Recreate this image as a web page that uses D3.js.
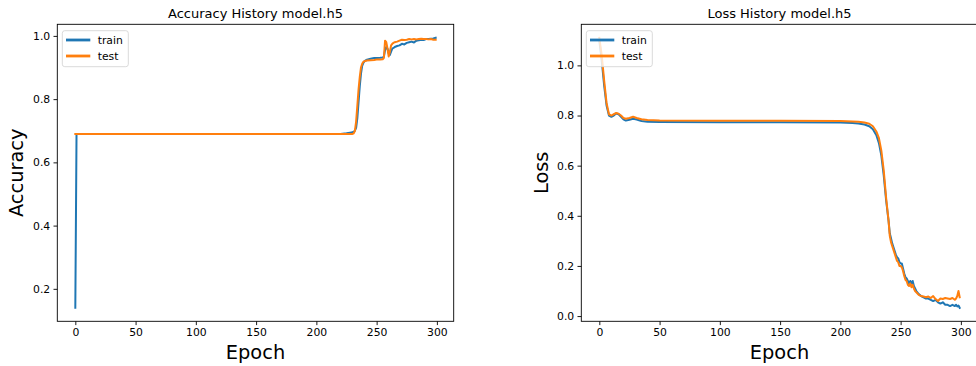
<!DOCTYPE html>
<html>
<head>
<meta charset="utf-8">
<script src="https://cdn.jsdelivr.net/npm/d3@7"></script>
<style>
  body { margin: 0; background: #fff; }
  svg { display: block; }
  text { font-family: "DejaVu Sans", sans-serif; fill: #000; }
</style>
</head>
<body>
<div class="grafici"></div>
<script>
// accuracy data
var accEpochs = [0, 1, 2, 220, 225, 228, 230, 231, 232, 233, 234, 235, 236, 237, 238, 239, 240, 242, 245, 248, 250, 253, 255, 256, 257, 258, 259, 260, 261, 262, 263, 264, 265, 267, 269, 271, 273, 275, 277, 279, 281, 283, 285, 287, 289, 291, 293, 295, 297, 299];
var accTrain = [0.14, 0.69, 0.69, 0.69, 0.692, 0.694, 0.695, 0.697, 0.70, 0.71, 0.74, 0.79, 0.84, 0.88, 0.905, 0.915, 0.92, 0.925, 0.928, 0.93, 0.93, 0.931, 0.932, 0.934, 0.955, 0.965, 0.96, 0.945, 0.94, 0.95, 0.96, 0.962, 0.965, 0.968, 0.97, 0.975, 0.973, 0.978, 0.98, 0.982, 0.979, 0.985, 0.986, 0.988, 0.987, 0.99, 0.99, 0.991, 0.992, 0.994];
var accTest = [0.69, 0.69, 0.69, 0.69, 0.69, 0.69, 0.69, 0.692, 0.70, 0.73, 0.78, 0.83, 0.87, 0.90, 0.912, 0.918, 0.92, 0.922, 0.923, 0.924, 0.925, 0.925, 0.926, 0.93, 0.985, 0.98, 0.96, 0.935, 0.95, 0.97, 0.975, 0.978, 0.98, 0.982, 0.985, 0.988, 0.987, 0.988, 0.99, 0.989, 0.99, 0.989, 0.99, 0.991, 0.99, 0.99, 0.989, 0.99, 0.988, 0.988];

// loss data
var lossEpochs = [0, 2, 4, 6, 8, 10, 12, 14, 16, 18, 20, 22, 25, 28, 31, 35, 40, 50, 100, 150, 200, 210, 215, 220, 224, 227, 230, 232, 234, 236, 238, 240, 241, 242, 243, 244, 245, 246, 247, 248, 249, 250, 251, 252, 253, 254, 255, 256, 257, 258, 259, 260, 261, 262, 263, 265, 267, 269, 271, 273, 275, 277, 279, 281, 283, 285, 287, 289, 291, 293, 295, 296, 297, 298, 299];
var lossTrain = [1.10, 1.02, 0.92, 0.84, 0.80, 0.795, 0.80, 0.808, 0.805, 0.795, 0.785, 0.78, 0.783, 0.787, 0.784, 0.778, 0.775, 0.774, 0.773, 0.773, 0.772, 0.77, 0.768, 0.764, 0.757, 0.745, 0.72, 0.69, 0.64, 0.56, 0.46, 0.38, 0.33, 0.31, 0.29, 0.275, 0.26, 0.245, 0.235, 0.23, 0.215, 0.21, 0.21, 0.19, 0.17, 0.155, 0.15, 0.14, 0.13, 0.14, 0.13, 0.14, 0.12, 0.11, 0.10, 0.088, 0.08, 0.075, 0.07, 0.07, 0.065, 0.06, 0.065, 0.055, 0.05, 0.055, 0.045, 0.045, 0.04, 0.045, 0.04, 0.045, 0.038, 0.042, 0.033];
var lossTest = [1.11, 1.04, 0.94, 0.85, 0.805, 0.80, 0.805, 0.81, 0.807, 0.80, 0.79, 0.787, 0.79, 0.795, 0.79, 0.785, 0.782, 0.78, 0.779, 0.779, 0.778, 0.776, 0.775, 0.772, 0.767, 0.757, 0.735, 0.71, 0.66, 0.58, 0.47, 0.38, 0.32, 0.295, 0.28, 0.265, 0.25, 0.235, 0.22, 0.215, 0.20, 0.20, 0.195, 0.18, 0.16, 0.145, 0.14, 0.125, 0.12, 0.13, 0.115, 0.125, 0.11, 0.10, 0.095, 0.085, 0.08, 0.078, 0.075, 0.078, 0.072, 0.08, 0.068, 0.06, 0.07, 0.068, 0.072, 0.07, 0.068, 0.072, 0.065, 0.07, 0.08, 0.10, 0.075];

var legendLabels = ["train", "test"];
var xTicks = [0, 50, 100, 150, 200, 250, 300];
var accTicks = [0.2, 0.4, 0.6, 0.8, 1.0];
var lossTicks = [0.0, 0.2, 0.4, 0.6, 0.8, 1.0];

var w = 976,
    h = 366;
var colori = ["#1f77b4", "#ff7f0e"];

var svg = d3.select(".grafici")
    .append("svg")
    .attr("width", w)
    .attr("height", h);

// matplotlib style 5% margin around the data
function conMargine(valori) {
    var ext = d3.extent(valori);
    var m = (ext[1] - ext[0]) * 0.05;
    return [ext[0] - m, ext[1] + m];
}

function disegnaGrafico(p) {
    var top = 24.3, bottom = 321.3;
    var x = d3.scaleLinear()
        .domain(conMargine(p.epochs))
        .range([p.left, p.right]);
    var y = d3.scaleLinear()
        .domain(conMargine(p.serie[0].concat(p.serie[1])))
        .range([bottom, top]);

    var g = svg.append("g");

    // axes
    var assex = d3.axisBottom(x).tickValues(xTicks).tickSize(3.8).tickPadding(3.3)
        .tickFormat(d3.format("d"));
    var assey = d3.axisLeft(y).tickValues(p.yTicks).tickSize(3.8).tickPadding(3.3)
        .tickFormat(d3.format(".1f"));

    var gx = g.append("g").attr("transform", "translate(0," + bottom + ")").call(assex);
    var gy = g.append("g").attr("transform", "translate(" + p.left + ",0)").call(assey);
    [gx, gy].forEach(function (a) {
        a.select(".domain").remove();
        a.selectAll(".tick line").attr("stroke", "#000").attr("stroke-width", 0.9);
        a.selectAll(".tick text").attr("font-size", "10.8px")
            .attr("font-family", "DejaVu Sans").attr("fill", "#000");
    });

    // lines
    var linea = d3.line()
        .x(function (d, i) { return x(p.epochs[i]); })
        .y(function (d) { return y(d); });

    p.serie.forEach(function (s, k) {
        g.append("path")
            .attr("d", linea(s))
            .attr("fill", "none")
            .attr("stroke", colori[k])
            .attr("stroke-width", 2)
            .attr("stroke-linejoin", "round")
            .attr("stroke-linecap", "square");
    });

    // frame
    g.append("rect")
        .attr("x", p.left).attr("y", top)
        .attr("width", p.right - p.left).attr("height", bottom - top)
        .attr("fill", "none").attr("stroke", "#000").attr("stroke-width", 0.9);

    // title and labels
    var cx = (p.left + p.right) / 2;
    g.append("text").attr("x", cx).attr("y", 18.3)
        .attr("text-anchor", "middle").attr("font-size", "13px").text(p.titolo);
    g.append("text").attr("x", cx).attr("y", 359)
        .attr("text-anchor", "middle").attr("font-size", "19.4px").text("Epoch");
    g.append("text")
        .attr("transform", "translate(" + p.yLabelX + "," + ((top + bottom) / 2) + ") rotate(-90)")
        .attr("text-anchor", "middle").attr("font-size", "19.4px").text(p.yLabel);

    // legend
    var lx = p.left + 5;
    var leg = g.append("g");
    leg.append("rect")
        .attr("x", lx).attr("y", 30.7).attr("width", 66).attr("height", 36)
        .attr("rx", 2.5)
        .attr("fill", "#fff").attr("fill-opacity", 0.8)
        .attr("stroke", "#d6d6d6").attr("stroke-width", 0.9);
    legendLabels.forEach(function (t, k) {
        var ly = 40 + k * 16;
        leg.append("line")
            .attr("x1", lx + 3.7).attr("x2", lx + 28)
            .attr("y1", ly).attr("y2", ly)
            .attr("stroke", colori[k]).attr("stroke-width", 2.8);
        leg.append("text")
            .attr("x", lx + 35.4).attr("y", ly + 4)
            .attr("font-size", "10.8px").text(t);
    });
}

disegnaGrafico({
    left: 57.3, right: 453.7,
    epochs: accEpochs, serie: [accTrain, accTest],
    yTicks: accTicks,
    titolo: "Accuracy History model.h5",
    yLabel: "Accuracy", yLabelX: 22.5
});

disegnaGrafico({
    left: 581.3, right: 977.7,
    epochs: lossEpochs, serie: [lossTrain, lossTest],
    yTicks: lossTicks,
    titolo: "Loss History model.h5",
    yLabel: "Loss", yLabelX: 547.5
});
</script>
</body>
</html>
